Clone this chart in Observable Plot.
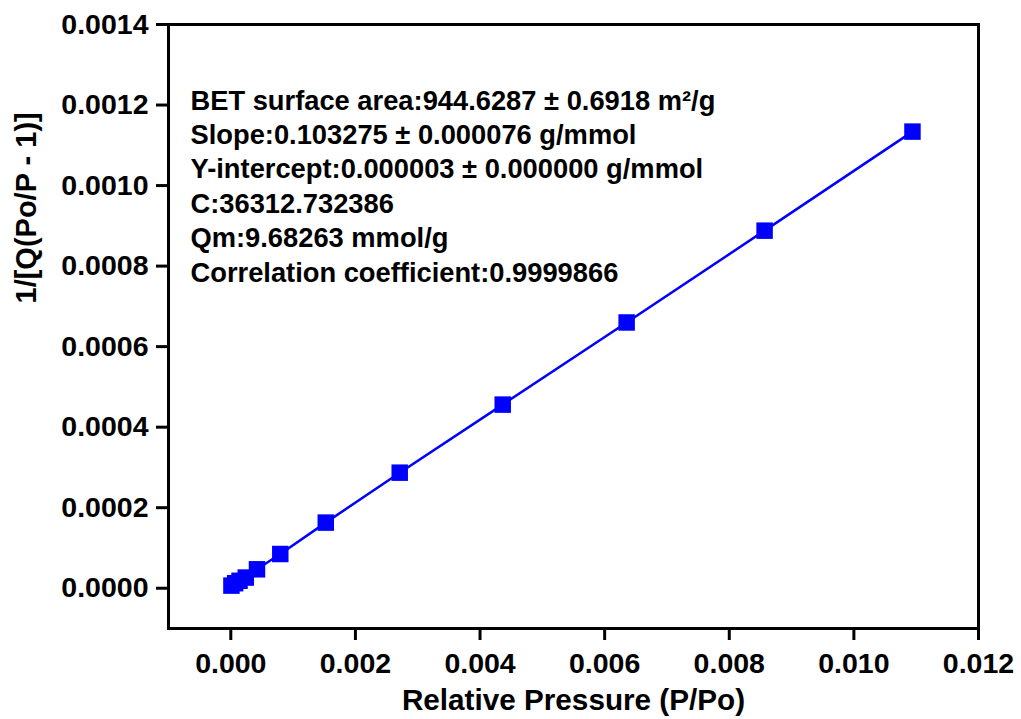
<!DOCTYPE html>
<html>
<head>
<meta charset="utf-8">
<script src="https://cdn.jsdelivr.net/npm/d3@7"></script>
<script src="https://cdn.jsdelivr.net/npm/@observablehq/plot@0.6"></script>
<style>
  html, body { margin: 0; padding: 0; background: #fff; }
</style>
</head>
<body>
<div id="chart"></div>
<script>
// BET plot: relative pressure vs 1/[Q(Po/P - 1)]
const pressure = [0.00001, 0.00007, 0.00014, 0.00024, 0.00042, 0.000794, 0.001524, 0.002711, 0.004364, 0.006353, 0.008567, 0.01094];
const betValue = [0.0000065, 0.0000125, 0.0000185, 0.0000265, 0.0000470, 0.0000850, 0.000163, 0.000287, 0.000456, 0.000660, 0.000888, 0.001134];

const xTicks = [0, 0.002, 0.004, 0.006, 0.008, 0.010, 0.012];
const yTicks = [0, 0.0002, 0.0004, 0.0006, 0.0008, 0.0010, 0.0012, 0.0014];

const fitLines = [
  "BET surface area:944.6287 ± 0.6918 m²/g",
  "Slope:0.103275 ± 0.000076 g/mmol",
  "Y-intercept:0.000003 ± 0.000000 g/mmol",
  "C:36312.732386",
  "Qm:9.68263 mmol/g",
  "Correlation coefficient:0.9999866"
];

const xTitle = "Relative Pressure (P/Po)";
const yTitle = "1/[Q(Po/P - 1)]";

const points = pressure.map((p, i) => ({p, v: betValue[i]}));
const blue = "#0000ff";

const chart = Plot.plot({
  width: 1021,
  height: 719,
  marginLeft: 168,
  marginRight: 43,
  marginTop: 24,
  marginBottom: 91,
  x: {domain: [-0.001, 0.012]},
  y: {domain: [-0.0001, 0.0014]},
  style: {
    fontFamily: "'Liberation Sans', Arial, sans-serif",
    fontWeight: "bold",
    background: "#fff",
    color: "#000"
  },
  marks: [
    Plot.axisX({
      ticks: xTicks, tickFormat: d3.format(".3f"), tickSize: 12, tickPadding: 12,
      strokeWidth: 3, fontSize: 28.5, fontWeight: "bold", label: null
    }),
    Plot.axisY({
      ticks: yTicks, tickFormat: d3.format(".4f"), tickSize: 12, tickPadding: 8,
      strokeWidth: 3, fontSize: 28.5, fontWeight: "bold", label: null
    }),
    Plot.frame({stroke: "#000", strokeWidth: 3}),
    Plot.line(points, {x: "p", y: "v", stroke: blue, strokeWidth: 2.5}),
    Plot.dot(points, {x: "p", y: "v", symbol: "square", r: 9.3, fill: blue, stroke: "none"}),
    Plot.text([fitLines.join("\n")], {
      frameAnchor: "top-left", textAnchor: "start", lineAnchor: "middle",
      dx: 22, dy: 160, lineHeight: 1.26, fontSize: 27.3, fontWeight: "bold", fill: "#000"
    }),
    Plot.text([xTitle], {
      frameAnchor: "bottom", lineAnchor: "middle", dy: 72,
      fontSize: 29.7, fontWeight: "bold", fill: "#000"
    }),
    Plot.text([yTitle], {
      frameAnchor: "left", lineAnchor: "middle", rotate: -90, dx: -142, dy: -23,
      fontSize: 29, fontWeight: "bold", fill: "#000"
    })
  ]
});

document.getElementById("chart").appendChild(chart);
</script>
</body>
</html>
